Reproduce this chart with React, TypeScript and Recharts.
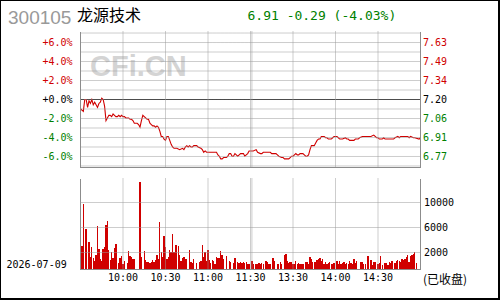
import React from "react";
import {
  LineChart,
  Line,
  BarChart,
  Bar,
  XAxis,
  YAxis,
  ReferenceLine,
} from "recharts";

// header / labels
const stockCode = "300105";
const stockName = "龙源技术";
const tradeDate = "2026-07-09";
const closedNote = "(已收盘)";
const watermark = "CFi.CN";

const prevClose = 7.2;
const lastPrice = 6.91;

// axes
const pctRange = 7.16;
const pctTicks = [6, 4, 2, 0, -2, -4, -6];
const pctGrid = [7, 6, 5, 4, 3, 2, 1, -1, -2, -3, -4, -5, -6, -7];
const timeTicks = [30, 60, 90, 120, 150, 180, 210];
const timeLabels = ["10:00", "10:30", "11:00", "11:30", "13:30", "14:00", "14:30"];
const timeGrid = [30, 60, 90, 120, 121, 150, 180, 210];
const volTicks = [2000, 6000, 10000];
const volLabelDomain = [-720, 13840];
const volBarDomain = [0, 14560];

// [minute since 9:30, price]
const pricePoints: [number, number][] = [
  [0, 7.13], [1, 7.12], [2, 7.11], [3, 7.2], [4, 7.2], [5, 7.14], [6, 7.19], [7, 7.17],
  [8, 7.2], [9, 7.16], [10, 7.18], [11, 7.16], [12, 7.14], [13, 7.17], [14, 7.18], [15, 7.21],
  [16, 7.2], [17, 7.15], [18, 7.04], [19, 7.06], [20, 7.08], [21, 7.08], [22, 7.07], [23, 7.09],
  [24, 7.08], [25, 7.07], [26, 7.07], [27, 7.08], [28, 7.07], [29, 7.08], [30, 7.07], [31, 7.07],
  [32, 7.06], [33, 7.06], [34, 7.06], [35, 7.05], [36, 7.05], [37, 7.04], [38, 7.02], [40, 7.02],
  [41, 7.01], [42, 6.99], [43, 7.04], [44, 7.08], [45, 7.07], [46, 7.06], [47, 7.05], [48, 7.05],
  [49, 7.02], [50, 7.01], [51, 7.0], [52, 7.0], [53, 6.99], [54, 7.0], [55, 6.99], [56, 6.96],
  [57, 6.92], [58, 6.92], [59, 6.9], [60, 6.89], [61, 6.92], [62, 6.92], [63, 6.89], [64, 6.86],
  [65, 6.84], [66, 6.83], [68, 6.83], [70, 6.82], [72, 6.83], [73, 6.82], [74, 6.84], [75, 6.85],
  [76, 6.84], [77, 6.85], [78, 6.84], [79, 6.84], [80, 6.85], [82, 6.85], [83, 6.84], [85, 6.83],
  [86, 6.82], [87, 6.8], [88, 6.81], [89, 6.8], [93, 6.8], [96, 6.8], [97, 6.78], [98, 6.77],
  [99, 6.75], [100, 6.75], [101, 6.76], [103, 6.76], [104, 6.77], [105, 6.79], [106, 6.79], [107, 6.77],
  [108, 6.77], [109, 6.79], [110, 6.78], [111, 6.77], [112, 6.78], [113, 6.79], [115, 6.79], [116, 6.77],
  [117, 6.78], [118, 6.79], [119, 6.81], [120, 6.81], [122, 6.81], [124, 6.82], [125, 6.8], [127, 6.79],
  [128, 6.79], [129, 6.8], [131, 6.8], [132, 6.8], [133, 6.8], [134, 6.8], [135, 6.79], [137, 6.79],
  [138, 6.79], [139, 6.78], [140, 6.77], [142, 6.76], [143, 6.76], [144, 6.75], [147, 6.75], [148, 6.76],
  [149, 6.77], [150, 6.77], [151, 6.78], [152, 6.79], [153, 6.78], [154, 6.78], [155, 6.79], [157, 6.79],
  [158, 6.78], [159, 6.77], [160, 6.77], [161, 6.78], [162, 6.82], [163, 6.85], [165, 6.85], [166, 6.87],
  [167, 6.89], [168, 6.9], [169, 6.9], [170, 6.92], [172, 6.92], [173, 6.91], [174, 6.91], [175, 6.9],
  [177, 6.9], [178, 6.91], [179, 6.92], [181, 6.92], [182, 6.91], [183, 6.9], [185, 6.9], [187, 6.91],
  [188, 6.9], [189, 6.9], [190, 6.89], [193, 6.89], [194, 6.9], [196, 6.9], [197, 6.91], [199, 6.92],
  [205, 6.92], [207, 6.93], [208, 6.92], [209, 6.91], [210, 6.91], [211, 6.9], [213, 6.9], [214, 6.91],
  [215, 6.9], [221, 6.9], [222, 6.91], [224, 6.92], [225, 6.91], [226, 6.92], [231, 6.92], [232, 6.91],
  [233, 6.92], [235, 6.91], [236, 6.91], [239, 6.9], [240, 6.91],
];

// [minute since 9:30, volume]
const volumeBars: [number, number][] = [
  [1, 3730], [2, 10560], [4, 6510], [6, 4370], [7, 1970], [8, 3570], [9, 1810], [10, 1330],
  [11, 2400], [12, 6930], [13, 3250], [14, 1650], [15, 1330], [16, 3250], [17, 3630], [18, 7090],
  [19, 7730], [20, 3090], [21, 1490], [22, 2770], [23, 1810], [24, 3410], [25, 4050], [27, 1120],
  [28, 1810], [29, 2130], [30, 910], [31, 1330], [33, 1010], [34, 2930], [35, 2130], [36, 1970],
  [37, 1650], [38, 1650], [42, 13970], [43, 1970], [45, 2930], [46, 1490], [47, 1280], [48, 1170],
  [49, 1010], [50, 1170], [51, 1490], [52, 1280], [53, 1490], [54, 2290], [55, 1650], [56, 7570],
  [57, 2770], [58, 1970], [59, 5330], [60, 3570], [61, 1650], [62, 1970], [63, 3090], [64, 2770],
  [65, 5650], [66, 2770], [67, 4000], [68, 3890], [69, 3730], [70, 2290], [71, 1330], [72, 1810],
  [73, 1970], [74, 1650], [75, 1650], [77, 3090], [78, 1170], [79, 1010], [80, 1650], [82, 1010],
  [84, 1170], [85, 1330], [86, 4000], [87, 1970], [88, 2770], [89, 1330], [90, 3090], [91, 1490],
  [92, 1010], [93, 1490], [94, 1330], [95, 850], [96, 1970], [97, 1810], [98, 1810], [99, 2930],
  [100, 2290], [101, 1650], [103, 2130], [105, 1330], [106, 1170], [108, 1010], [109, 1810], [111, 1170],
  [112, 1010], [113, 1170], [114, 1010], [115, 1170], [116, 1010], [117, 1170], [118, 850], [119, 850],
  [121, 1330], [122, 850], [124, 850], [125, 850], [126, 1010], [127, 850], [128, 1010], [129, 850],
  [131, 1330], [132, 1170], [133, 850], [134, 850], [136, 1810], [137, 1330], [139, 850], [140, 850],
  [141, 1170], [142, 850], [144, 2290], [145, 2450], [146, 1330], [147, 1010], [148, 1170], [149, 1170],
  [150, 850], [151, 850], [152, 1330], [153, 850], [154, 1010], [155, 850], [156, 850], [157, 850],
  [159, 1170], [160, 1170], [161, 850], [162, 1970], [163, 1650], [164, 1170], [165, 1170], [166, 1170],
  [167, 1490], [168, 1650], [169, 1810], [170, 1330], [171, 1650], [172, 850], [173, 1170], [174, 850],
  [175, 1010], [176, 1170], [177, 850], [178, 850], [179, 1010], [181, 1330], [182, 850], [183, 1330],
  [184, 850], [185, 1010], [186, 1170], [187, 850], [188, 1010], [189, 850], [190, 1330], [191, 1010],
  [192, 850], [193, 1650], [194, 1010], [195, 1330], [198, 1170], [199, 1170], [200, 850], [201, 850],
  [203, 2130], [205, 1490], [206, 690], [207, 1170], [208, 1170], [210, 850], [211, 1010], [212, 2130],
  [213, 690], [215, 1010], [216, 1010], [217, 690], [218, 1170], [219, 1010], [220, 1330], [222, 1010],
  [223, 1330], [224, 1490], [225, 1330], [226, 1170], [227, 1650], [228, 1490], [229, 1650], [230, 1970],
  [231, 2290], [232, 1170], [233, 2130], [234, 2290], [235, 2450], [236, 2770], [237, 1010], [240, 2130],
];

const RED = "#d00000";
const GREEN = "#008000";
const FRAME = "#8c8c8c";
const GRID = "#9a9a9a";
const MONO = "'DejaVu Sans Mono', monospace";

// plot sizes: the dotted grid is drawn as inward tick lines spanning the plot
const PLOT_W = 340;
const PRICE_H = 136;
const VOL_H = 91;

const lineData = pricePoints.map(([m, p]) => ({ m, p }));
const barData = volumeBars.map(([m, v]) => ({ m, v }));

const signColor = (d: number) => (d > 0 ? RED : d < 0 ? GREEN : "#000");
const gridLine = { stroke: GRID, strokeWidth: 1, strokeDasharray: "1 1" };
const NoTick = () => <g />;

const PctTick = (props: any) => {
  const { x, y, payload } = props;
  const v = payload.value as number;
  if (!pctTicks.includes(v)) return <g />;
  const txt = (v < 0 ? "-" : "+") + Math.abs(v).toFixed(1) + "%";
  return (
    <text x={x} y={y} dy="0.36em" textAnchor="end" fill={signColor(v)} fontFamily={MONO} fontSize={10}>
      {txt}
    </text>
  );
};

const PriceTick = (props: any) => {
  const { x, y, payload } = props;
  const v = payload.value as number;
  return (
    <text x={x} y={y} dy="0.36em" textAnchor="start" fill={signColor(Math.round((v - prevClose) * 1000))} fontFamily={MONO} fontSize={10}>
      {v.toFixed(2)}
    </text>
  );
};

const VolTick = (props: any) => {
  const { x, y, payload } = props;
  return (
    <text x={x} y={y} dy="0.36em" textAnchor="start" fill="#000" fontFamily={MONO} fontSize={10}>
      {payload.value}
    </text>
  );
};

const TimeTick = (props: any) => {
  const { x, y, payload } = props;
  const i = timeTicks.indexOf(payload.value);
  if (i < 0) return <g />;
  return (
    <text x={x} y={y} dy="0.71em" textAnchor="middle" fill="#000" fontFamily={MONO} fontSize={10}>
      {timeLabels[i]}
    </text>
  );
};

export default function App() {
  const change = lastPrice - prevClose;
  const changePct = (change / prevClose) * 100;
  const quote = `${lastPrice.toFixed(2)} ${change.toFixed(2)} (${changePct.toFixed(2)}%)`;
  const priceTicks = pctTicks.map((p) => prevClose * (1 + p / 100));
  const priceDomain = [prevClose * (1 - pctRange / 100), prevClose * (1 + pctRange / 100)];

  const abs = { position: "absolute" as const, left: 0, top: 0 };

  return (
    <div style={{ ...abs, width: 500, height: 300, background: "#fff" }}>
      <style>{`
        .vol .recharts-rectangle { shape-rendering: crispEdges; }
        .recharts-cartesian-axis-line, .zero line { shape-rendering: crispEdges; }
      `}</style>

      <svg width={500} height={300} style={abs}>
        <text x={8} y={23.5} fill="#999" fontFamily="'Liberation Sans', Arial" fontSize={19}>
          {stockCode}
        </text>
        <text x={77} y={21} fill="#000" fontFamily="'Noto Sans CJK SC'" fontSize={16}>
          {stockName}
        </text>
        <text x={247.5} y={19.5} fill={GREEN} fontFamily={MONO} fontSize={13}>
          {quote}
        </text>
        <text x={90} y={75.5} fill="#d4d4d4" fontFamily="'Liberation Sans', Arial" fontWeight="bold" fontSize={29}>
          {watermark}
        </text>
        <text x={6.5} y={267.5} fill="#000" fontFamily={MONO} fontSize={10}>
          {tradeDate}
        </text>
        <text x={423} y={284} fill="#000" fontFamily="'Noto Sans CJK SC'" fontSize={12}>
          {closedNote}
        </text>
      </svg>

      {/* price panel */}
      <div style={abs}>
        <LineChart width={500} height={180} data={lineData} margin={{ top: 31.5, right: 0, bottom: 12.49, left: 0 }}>
          <XAxis
            xAxisId="t"
            dataKey="m"
            type="number"
            domain={[0, 240]}
            allowDataOverflow
            height={0.01}
            ticks={timeGrid}
            interval={0}
            tick={NoTick}
            tickSize={-PRICE_H}
            tickLine={gridLine}
            axisLine={{ stroke: FRAME }}
          />
          <XAxis xAxisId="top" orientation="top" type="number" domain={[0, 240]} height={0} tick={false} tickLine={false} axisLine={{ stroke: FRAME }} />
          <YAxis
            yAxisId="pct"
            orientation="left"
            type="number"
            width={80.5}
            domain={[-pctRange, pctRange]}
            allowDataOverflow
            ticks={pctGrid.concat([0])}
            interval={0}
            tick={<PctTick />}
            tickSize={-PLOT_W}
            tickMargin={PLOT_W + 8}
            tickLine={gridLine}
            axisLine={{ stroke: FRAME }}
          />
          <YAxis
            yAxisId="price"
            orientation="right"
            type="number"
            width={79.5}
            domain={priceDomain}
            allowDataOverflow
            ticks={priceTicks}
            interval={0}
            tick={<PriceTick />}
            tickSize={0}
            tickMargin={2.5}
            tickLine={false}
            axisLine={{ stroke: FRAME }}
          />
          <ReferenceLine className="zero" yAxisId="pct" xAxisId="t" y={0} stroke="#000" strokeWidth={1.3} />
          <Line
            xAxisId="t"
            yAxisId="price"
            dataKey="p"
            type="linear"
            stroke={RED}
            strokeWidth={1.1}
            dot={false}
            isAnimationActive={false}
          />
        </LineChart>
      </div>

      {/* volume panel */}
      <div style={abs} className="vol">
        <BarChart width={500} height={300} data={barData} margin={{ top: 178.5, right: 0, bottom: 0, left: 0 }} barSize={1.3}>
          <XAxis
            xAxisId="t"
            dataKey="m"
            type="number"
            domain={[0, 240]}
            allowDataOverflow
            height={30.5}
            ticks={timeGrid}
            interval={0}
            tick={<TimeTick />}
            tickSize={-VOL_H}
            tickMargin={VOL_H + 4.5}
            tickLine={gridLine}
            axisLine={{ stroke: FRAME }}
          />
          <XAxis xAxisId="top" orientation="top" type="number" domain={[0, 240]} height={0} tick={false} tickLine={false} axisLine={{ stroke: FRAME }} />
          <YAxis yAxisId="frame" orientation="left" type="number" width={80.5} domain={[0, 1]} tick={false} tickLine={false} axisLine={{ stroke: FRAME }} />
          <YAxis yAxisId="vol" type="number" hide domain={volBarDomain} allowDataOverflow />
          <YAxis
            yAxisId="lbl"
            orientation="right"
            type="number"
            width={79.5}
            domain={volLabelDomain}
            allowDataOverflow
            ticks={volTicks}
            interval={0}
            tick={<VolTick />}
            tickSize={-PLOT_W}
            tickMargin={PLOT_W + 3.5}
            tickLine={gridLine}
            axisLine={{ stroke: FRAME }}
          />
          <Bar xAxisId="t" yAxisId="vol" dataKey="v" fill={RED} isAnimationActive={false} />
        </BarChart>
      </div>

      <div
        style={{
          ...abs,
          width: 500,
          height: 300,
          boxSizing: "border-box",
          borderTop: "1px solid #000",
          borderLeft: "1px solid #000",
          borderRight: "2px solid #000",
          borderBottom: "2px solid #000",
        }}
      />
    </div>
  );
}
